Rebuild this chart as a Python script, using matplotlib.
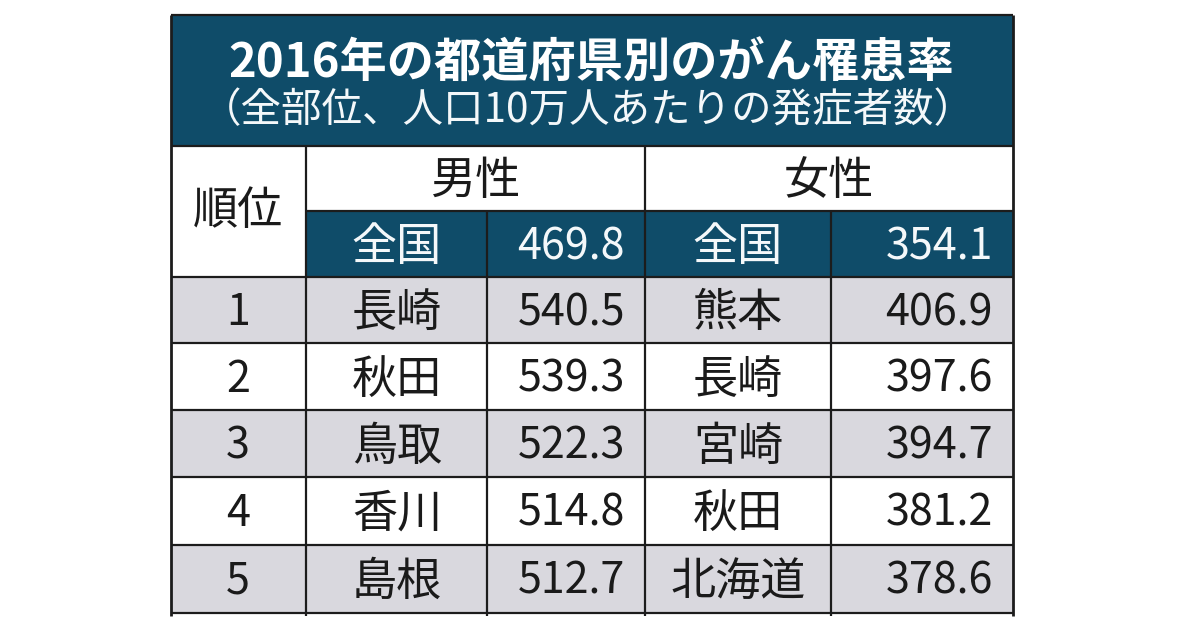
import matplotlib
matplotlib.use('Agg')
import matplotlib.pyplot as plt
from matplotlib.patches import Rectangle

plt.rcParams['font.family'] = ['Noto Sans CJK JP', 'DejaVu Sans']

title = '2016年の都道府県別のがん罹患率'
subtitle = '（全部位、人口10万人あたりの発症者数）'
rank_header = '順位'
male_header = '男性'
female_header = '女性'
national_label = '全国'
male_national = '469.8'
female_national = '354.1'

ranks = ['1', '2', '3', '4', '5']
male_prefs = ['長崎', '秋田', '鳥取', '香川', '島根']
male_values = ['540.5', '539.3', '522.3', '514.8', '512.7']
female_prefs = ['熊本', '長崎', '宮崎', '秋田', '北海道']
female_values = ['406.9', '397.6', '394.7', '381.2', '378.6']

# table grid in pixels
xs = [171, 306, 487, 645, 831, 1013]
row_ys = [277, 343, 410, 477, 545, 613]

NAVY = '#0f4c69'
GREY = '#d9d8de'
LINE = '#1c1c1c'
TEXT = '#1a1a1a'
WHITE = '#f4f8fa'

KANJI = 32.5
DIGIT = 31

fig = plt.figure(figsize=(12, 6.3), dpi=100)
ax = fig.add_axes([0, 0, 1, 1])
ax.set_xlim(0, 1200)
ax.set_ylim(630, 0)
ax.axis('off')

def box(x0, y0, x1, y1, color):
    ax.add_patch(Rectangle((x0, y0), x1 - x0, y1 - y0, facecolor=color, edgecolor='none', zorder=1))

def line(x0, y0, x1, y1, lw=1.6):
    ax.plot([x0, x1], [y0, y1], color=LINE, lw=lw, solid_capstyle='butt', zorder=2)

def label(x, y, s, size=KANJI, color=TEXT, ha='center', weight='normal'):
    ax.text(x, y, s, fontsize=size, color=color, ha=ha, va='center_baseline', fontweight=weight, zorder=3)

# header
box(xs[0], 15, xs[5], 146, NAVY)
box(xs[1], 211, xs[5], 277, NAVY)
label(591, 59, title, size=34, color='white', weight='bold')
label(588, 106, subtitle, size=29.2, color=WHITE)
label(238, 206, rank_header)
label(475, 176, male_header)
label(829, 176, female_header)
label(397, 242, national_label, color=WHITE)
label(738, 242, national_label, color=WHITE)
label(625, 242, male_national, size=DIGIT, color=WHITE, ha='right')
label(993, 242, female_national, size=DIGIT, color=WHITE, ha='right')

# body rows
for i in range(len(ranks)):
    y0, y1 = row_ys[i], row_ys[i + 1]
    ym = (y0 + y1) / 2 - 2
    if i % 2 == 0:
        box(xs[0], y0, xs[5], y1, GREY)
    label(238, ym, ranks[i], size=DIGIT)
    label(397, ym, male_prefs[i])
    label(625, ym, male_values[i], size=DIGIT, ha='right')
    label(738, ym, female_prefs[i])
    label(993, ym, female_values[i], size=DIGIT, ha='right')

# grid lines
for y in row_ys:
    line(xs[0], y, xs[5], y)
line(xs[0], 15, xs[5], 15)
line(xs[0], 146, xs[5], 146)
line(xs[1], 211, xs[5], 211)
line(xs[0], 15, xs[0], 616, lw=2)
line(xs[5], 15, xs[5], 616, lw=2)
line(xs[1], 146, xs[1], 616)
line(xs[3], 146, xs[3], 616)
line(xs[2], 211, xs[2], 616)
line(xs[4], 211, xs[4], 616)

fig.savefig('out.png', dpi=100)
